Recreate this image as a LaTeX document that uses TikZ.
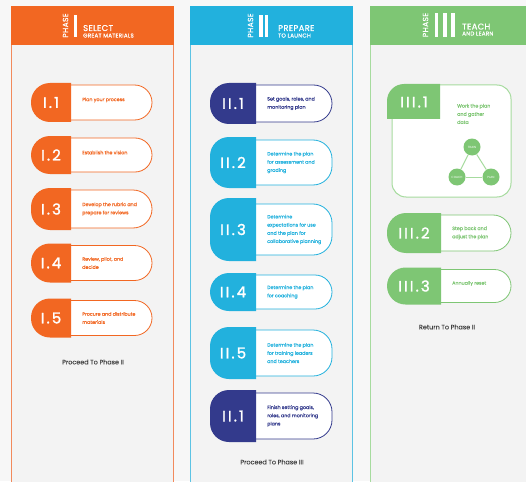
\documentclass[tikz,border=0pt]{standalone}
\usepackage{fontspec}
\setmainfont{Poppins}
\newfontfamily\labfont[LetterSpace=14, FakeBold=1.6]{Poppins}
\newfontfamily\hdfont[LetterSpace=4, FakeBold=0.8]{Poppins}
\newfontfamily\descfont[FakeBold=0.2]{Poppins}
\definecolor{orng}{HTML}{F26722}
\definecolor{orngline}{HTML}{F28A5C}
\definecolor{lblue}{HTML}{22B1DD}
\definecolor{lblueline}{HTML}{5CC3E4}
\definecolor{navy}{HTML}{333A8C}
\definecolor{grn}{HTML}{7EC674}
\definecolor{grnline}{HTML}{A6DB9E}
\definecolor{bgc}{HTML}{F7F7F7}
\definecolor{colbg}{HTML}{F3F3F3}
\definecolor{foot}{HTML}{444444}
\tikzset{
  lab/.style={font=\labfont\fontsize{15}{15}\selectfont, text=white, inner sep=0pt},
  desc/.style={font=\descfont\fontsize{4.8}{8.2}\selectfont, align=left, inner sep=0pt, anchor=west},
  phase/.style={font=\hdfont\fontsize{7.6}{8}\selectfont, text=white, rotate=90, inner sep=0pt},
  htitle/.style={font=\hdfont\fontsize{8.4}{9}\selectfont, text=white, inner sep=0pt, anchor=base west},
  hsub/.style={font=\hdfont\fontsize{5.6}{6}\selectfont, text=white, inner sep=0pt, anchor=base west},
  footer/.style={font=\descfont\fontsize{6.4}{7}\selectfont, text=foot, inner sep=0pt},
  cyc/.style={circle, fill=grn, minimum size=17pt, inner sep=0pt, text=white, font=\fontsize{3}{3}\selectfont},
  cycline/.style={draw=grnline, line width=1pt}
}
\def\pinset{2}
\def\tdy{0}
% #1 name, #2 xl, #3 xm, #4 xr, #5 yc, #6 h, #7 color, #8 label, #9 text
\newcommand{\pill}[9]{%
  \pgfmathsetmacro\pyt{#5-#6/2}%
  \pgfmathsetmacro\pyb{#5+#6/2}%
  \pgfmathsetmacro\pr{min(#6/2,19)}%
  \pgfmathsetmacro\wyt{\pyt+\pinset}%
  \pgfmathsetmacro\wyb{\pyb-\pinset}%
  \pgfmathsetmacro\wr{min((#6-2*\pinset)/2,19)}%
  \filldraw[fill=white, draw=#7, line width=0.8pt] (#3-5,\wyt) -- (#4-\wr,\wyt) arc (270:360:\wr) -- (#4,\wyb-\wr) arc (0:90:\wr) -- (#3-5,\wyb) -- cycle;
  \fill[#7] (#3,\pyt) -- (#2+\pr,\pyt) arc (270:180:\pr) -- (#2,\pyb-\pr) arc (180:90:\pr) -- (#3,\pyb) -- cycle;
  \node[lab] (#1-n) at ({(#2+#3)/2},#5) {#8};
  \node[desc, text=#7] (#1-t) at (#3+11,#5+\tdy) {#9};
}
\begin{document}
\begin{tikzpicture}[x=1pt,y=-1pt]
\useasboundingbox (0,0) rectangle (526,481);
\fill[bgc] (0,0) rectangle (526,481);
% columns
\filldraw[fill=colbg, draw=orngline, line width=0.9pt] (11,6) rectangle (173.5,490);
\filldraw[fill=colbg, draw=lblueline, line width=0.9pt] (190.5,6) rectangle (352,490);
\filldraw[fill=colbg, draw=grnline, line width=0.9pt] (370,6) rectangle (540,490);
\fill[orng] (10.5,6) rectangle (174,45);
\fill[lblue] (190,6) rectangle (352.5,45);
\fill[grn] (369.5,6) rectangle (526,45);
% headers
\node[phase] (ph1) at (65.5,25.5) {PHASE};
\fill[white] (73.5,15) rectangle (77,37.5);
\node[htitle] (ht1) at (83,31) {SELECT};
\node[hsub] (hs1) at (83,37.5) {GREAT MATERIALS};
\node[phase] (ph2) at (250.5,25.5) {PHASE};
\fill[white] (259.3,15) rectangle (262.6,37.5);
\fill[white] (264.6,15) rectangle (267.9,37.5);
\node[htitle] (ht2) at (278,31) {PREPARE};
\node[hsub] (hs2) at (278,37.5) {TO LAUNCH};
\node[phase] (ph3) at (425.5,25) {PHASE};
\fill[white] (435,13.5) rectangle (438.4,37);
\fill[white] (443.2,13.5) rectangle (446.6,37);
\fill[white] (451.2,13.5) rectangle (454.6,37);
\node[htitle] (ht3) at (462,29.5) {TEACH};
\node[hsub] (hs3) at (462,35.5) {AND LEARN};
% column 1
\def\tdy{-2.5}
\pill{a1}{31}{71}{152}{102.5}{39}{orng}{I.1}{Plan your process}
\pill{a2}{31}{71}{152}{155}{38}{orng}{I.2}{Establish the vision}
\def\tdy{0}
\pill{a3}{31}{71}{152}{209}{42}{orng}{I.3}{Develop the rubric and\\prepare for reviews}
\pill{a4}{31}{71}{152}{263}{39}{orng}{I.4}{Review, pilot, and\\decide}
\pill{a5}{31}{71}{152}{318}{39}{orng}{I.5}{Procure and distribute\\materials}
\node[footer] (f1) at (93,362) {Proceed To Phase II};
% column 2
\pill{b1}{210}{256}{332}{103.5}{41}{navy}{II.1}{Set goals, roles, and\\monitoring plan}
\def\pinset{3}
\pill{b2}{210}{256}{332}{162.5}{51}{lblue}{II.2}{Determine the plan\\for assessment and\\grading}
\def\pinset{6}
\pill{b3}{210}{256}{332}{229.5}{63}{lblue}{II.3}{Determine\\expectations for use\\and the plan for\\collaborative planning}
\def\pinset{2}
\pill{b4}{210}{256}{332}{292}{38}{lblue}{II.4}{Determine the plan\\for coaching}
\def\pinset{3}
\pill{b5}{210}{256}{332}{353}{52}{lblue}{II.5}{Determine the plan\\for training leaders\\and teachers}
\pill{b6}{210}{256}{332}{416}{52}{navy}{II.1}{Finish setting goals,\\roles, and monitoring\\plans}
\def\pinset{2}
\node[footer] (f2) at (272,462) {Proceed To Phase III};
% column 3
\filldraw[fill=white, draw=grnline, line width=1pt, rounded corners=14pt] (392,85) rectangle (511,197);
\fill[grn] (440,84) -- (404,84) arc (270:180:17) -- (387,119) -- (440,119) -- cycle;
\node[lab] (c1-n) at (414,102) {III.1};
\node[desc, text=grn] (c1-t) at (457,114) {Work the plan\\and gather\\data};
\node[cyc] (train) at (472,147) {TRAIN};
\node[cyc] (coach) at (457,177) {COACH};
\node[cyc] (plan) at (491,177) {PLAN};
\draw[cycline] (train) -- (coach);
\draw[cycline] (train) -- (plan);
\draw[cycline] (coach) -- (plan);
\pill{c2}{387}{441}{511}{233}{40}{grn}{III.2}{Step back and\\adjust the plan}
\def\tdy{-2.5}
\pill{c3}{387}{441}{511}{286}{37}{grn}{III.3}{Annually reset}
\def\tdy{0}
\node[footer] (f3) at (447,327) {Return To Phase II};
\end{tikzpicture}
\end{document}
